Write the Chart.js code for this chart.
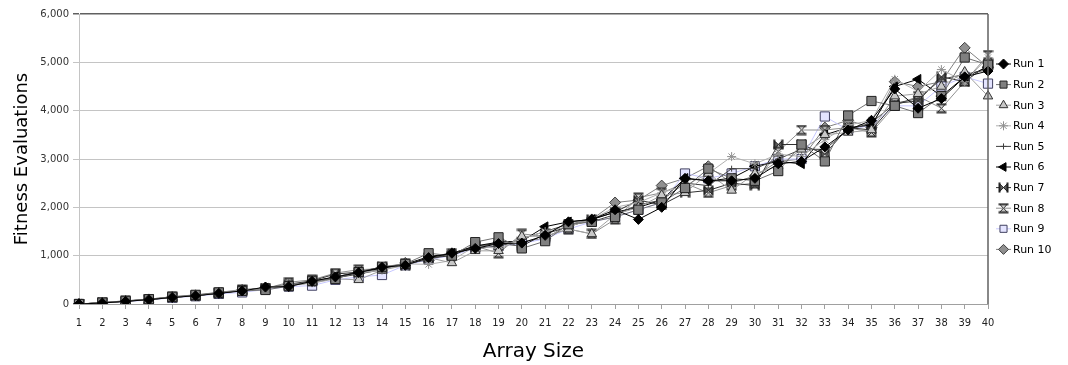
<!DOCTYPE html>
<html>
<head>
<meta charset="utf-8">
<script src="https://cdn.jsdelivr.net/npm/chart.js@4.4.1/dist/chart.umd.min.js"></script>
<style>
  html, body { margin: 0; padding: 0; background: #fff; }
  #wrap { width: 1068px; height: 365px; position: relative; }
</style>
</head>
<body>
<div id="wrap"><canvas id="chart"></canvas></div>
<script>
// Array sizes on the x axis
const arraySizes = Array.from({ length: 40 }, (_, i) => String(i + 1));

// Fitness evaluations per run
const run1 = [0, 20, 55, 90, 135, 170, 220, 270, 350, 360, 470, 560, 650, 760, 800, 960, 1050, 1150, 1250, 1260, 1420, 1700, 1750, 1950, 1750, 2000, 2600, 2550, 2550, 2600, 2900, 2950, 3250, 3600, 3800, 4450, 4050, 4250, 4700, 4820];
const run2 = [0, 30, 65, 100, 150, 190, 240, 270, 290, 370, 480, 520, 660, 770, 830, 1050, 1000, 1280, 1380, 1150, 1300, 1650, 1700, 1800, 1950, 2100, 2400, 2800, 2600, 2550, 2750, 3300, 2950, 3900, 4200, 4100, 3950, 4300, 5100, 4950];
const run3 = [0, 25, 60, 90, 140, 180, 230, 280, 320, 390, 430, 520, 500, 700, 800, 960, 850, 1100, 1100, 1400, 1400, 1550, 1450, 1850, 2000, 2250, 2300, 2700, 2350, 2700, 2850, 3200, 3500, 3550, 3600, 4300, 4350, 4500, 4800, 4300];
const run4 = [0, 25, 60, 95, 140, 170, 230, 290, 330, 400, 440, 560, 640, 700, 830, 820, 900, 1200, 1150, 1350, 1500, 1600, 1750, 2000, 2100, 2300, 2450, 2700, 3050, 2900, 3100, 3050, 3400, 3700, 3800, 4650, 4400, 4850, 4600, 5100];
const run5 = [0, 25, 60, 95, 140, 175, 230, 280, 330, 380, 440, 540, 620, 710, 830, 920, 1050, 1150, 1200, 1350, 1500, 1650, 1700, 1850, 2050, 2150, 2500, 2450, 2800, 2800, 3000, 3200, 3200, 3600, 3750, 4150, 4250, 4650, 4750, 4850];
const run6 = [0, 25, 60, 95, 140, 170, 230, 280, 330, 380, 470, 560, 660, 740, 820, 980, 1050, 1200, 1280, 1300, 1600, 1700, 1750, 1900, 2000, 2150, 2600, 2550, 2600, 2850, 2950, 2900, 3500, 3650, 3700, 4500, 4650, 4300, 4700, 4900];
const run7 = [0, 25, 55, 90, 135, 175, 220, 280, 330, 410, 480, 620, 660, 770, 800, 950, 1000, 1200, 1250, 1200, 1450, 1600, 1750, 1900, 2150, 2050, 2300, 2350, 2500, 2450, 3300, 3300, 3100, 3650, 3600, 4150, 4200, 4700, 4600, 4950];
const run8 = [0, 30, 65, 100, 150, 180, 240, 300, 320, 450, 500, 640, 710, 730, 830, 960, 1050, 1200, 1050, 1450, 1400, 1550, 1450, 1750, 2200, 2300, 2500, 2300, 2450, 2500, 3150, 3600, 3600, 3650, 3550, 4100, 4300, 4050, 4600, 5150];
const run9 = [0, 20, 50, 80, 130, 160, 210, 240, 300, 360, 380, 500, 560, 600, 800, 920, 1000, 1150, 1200, 1250, 1350, 1550, 1700, 1800, 1950, 2100, 2700, 2600, 2700, 2850, 3000, 3000, 3880, 3600, 3700, 4100, 4100, 4500, 4700, 4560];
const run10 = [0, 25, 60, 95, 140, 175, 230, 290, 340, 400, 450, 550, 630, 730, 850, 900, 1050, 1150, 1280, 1300, 1350, 1650, 1750, 2100, 2150, 2450, 2600, 2850, 2500, 2650, 2950, 3000, 3650, 3800, 3650, 4600, 4500, 4600, 5300, 4900];

const runNames = ['Run 1', 'Run 2', 'Run 3', 'Run 4', 'Run 5', 'Run 6', 'Run 7', 'Run 8', 'Run 9', 'Run 10'];
const runValues = [run1, run2, run3, run4, run5, run6, run7, run8, run9, run10];

// Hourglass marker (turned 90 degrees it becomes the bowtie)
function hourglass(fill, stroke) {
    const c = document.createElement('canvas');
    c.width = 11; c.height = 11;
    const g = c.getContext('2d');
    g.beginPath();
    g.moveTo(1.5, 1.5); g.lineTo(9.5, 1.5); g.lineTo(1.5, 9.5); g.lineTo(9.5, 9.5); g.closePath();
    g.fillStyle = fill; g.fill();
    g.strokeStyle = stroke; g.lineWidth = 1; g.stroke();
    g.fillStyle = stroke;
    g.fillRect(0.5, 0.5, 10, 2);
    g.fillRect(0.5, 8.5, 10, 2);
    return c;
}

const styles = [
    { line: '#000000', fill: '#000000', border: '#000000', point: 'rectRot', radius: 5, rot: 0 },
    { line: '#707070', fill: '#808080', border: '#202020', point: 'rect', radius: 6.5, rot: 0 },
    { line: '#a0a0a0', fill: '#c8c8c8', border: '#303030', point: 'triangle', radius: 5.5, rot: 0 },
    { line: '#b0b0b0', fill: '#a0a0a0', border: '#909090', point: 'star', radius: 4.5, rot: 0 },
    { line: '#404040', fill: '#404040', border: '#404040', point: 'cross', radius: 3, rot: 0 },
    { line: '#000000', fill: '#000000', border: '#000000', point: 'triangle', radius: 5.5, rot: -90 },
    { line: '#303030', fill: '#505050', border: '#202020', point: hourglass('#606060', '#202020'), radius: 5, rot: 90 },
    { line: '#909090', fill: '#d0d0d0', border: '#202020', point: hourglass('#d8d8d8', '#303030'), radius: 5, rot: 0 },
    { line: '#c8c8ff', fill: '#e4e4ff', border: '#404060', point: 'rect', radius: 6.5, rot: 0 },
    { line: '#808080', fill: '#909090', border: '#404040', point: 'rectRot', radius: 5.5, rot: 0 }
];

const datasets = runValues.map((vals, i) => ({
    label: runNames[i],
    data: vals,
    borderColor: styles[i].line,
    borderWidth: 1,
    pointStyle: styles[i].point,
    pointRotation: styles[i].rot,
    pointRadius: styles[i].radius,
    pointBackgroundColor: styles[i].fill,
    pointBorderColor: styles[i].border,
    pointBorderWidth: 1,
    tension: 0
}));

// legend on the right, drawn by hand so it sits where the original one does
const sideLegend = {
    id: 'sideLegend',
    afterDraw(chart) {
        const ctx = chart.ctx;
        const x0 = 996, y0 = 64, step = 20.6;
        ctx.save();
        chart.data.datasets.forEach((ds, i) => {
            const y = y0 + i * step;
            ctx.strokeStyle = ds.borderColor;
            ctx.lineWidth = 1;
            ctx.beginPath();
            ctx.moveTo(x0, y); ctx.lineTo(x0 + 15, y);
            ctx.stroke();
            ctx.fillStyle = ds.pointBackgroundColor;
            ctx.strokeStyle = ds.pointBorderColor;
            Chart.helpers.drawPoint(ctx, {
                pointStyle: ds.pointStyle,
                rotation: ds.pointRotation,
                radius: Math.min(ds.pointRadius, 5),
                borderWidth: 1
            }, x0 + 7.5, y);
            ctx.fillStyle = '#000';
            ctx.font = '11px "DejaVu Sans", sans-serif';
            ctx.textBaseline = 'middle';
            ctx.textAlign = 'left';
            ctx.fillText(ds.label, x0 + 17, y + 0.5);
        });
        // right border of the plot
        const a = chart.chartArea;
        ctx.strokeStyle = '#606060';
        ctx.lineWidth = 1.5;
        ctx.beginPath();
        ctx.moveTo(a.right, a.top); ctx.lineTo(a.right, a.bottom);
        ctx.stroke();
        ctx.restore();
    }
};

new Chart(document.getElementById('chart'), {
    type: 'line',
    data: { labels: arraySizes, datasets: datasets },
    options: {
        responsive: true,
        maintainAspectRatio: false,
        animation: false,
        layout: { padding: { left: 0, right: 80, top: 14, bottom: 0 } },
        plugins: {
            legend: { display: false },
            tooltip: { enabled: false }
        },
        scales: {
            x: {
                offset: false,
                grid: { drawOnChartArea: false, tickLength: 5, color: '#a0a0a0' },
                border: { color: '#a0a0a0' },
                ticks: {
                    autoSkip: false,
                    maxRotation: 0,
                    color: '#222',
                    padding: 8,
                    font: { family: '"DejaVu Sans Condensed", "Liberation Sans Narrow", sans-serif', size: 11 }
                },
                title: {
                    display: true,
                    text: 'Array Size',
                    color: '#000',
                    padding: { top: 4, bottom: 1 },
                    font: { family: '"DejaVu Sans", sans-serif', size: 20 }
                },
                afterFit(scale) { scale.height = 61; }
            },
            y: {
                min: 0,
                max: 6000,
                grid: {
                    color: ctx => ctx.tick && ctx.tick.value === 6000 ? '#606060' : '#c4c4c4',
                    lineWidth: ctx => ctx.tick && ctx.tick.value === 6000 ? 1.5 : 1,
                    tickLength: 6
                },
                border: { color: '#c4c4c4' },
                ticks: {
                    stepSize: 1000,
                    color: '#333',
                    padding: 4,
                    font: { family: '"DejaVu Sans", sans-serif', size: 10 },
                    callback: v => v.toLocaleString('en-US')
                },
                title: {
                    display: true,
                    text: 'Fitness Evaluations',
                    color: '#000',
                    padding: { top: 12, bottom: 4 },
                    font: { family: '"DejaVu Sans", sans-serif', size: 18 }
                },
                afterFit(scale) { scale.width = 79; }
            }
        }
    },
    plugins: [sideLegend]
});
</script>
</body>
</html>
